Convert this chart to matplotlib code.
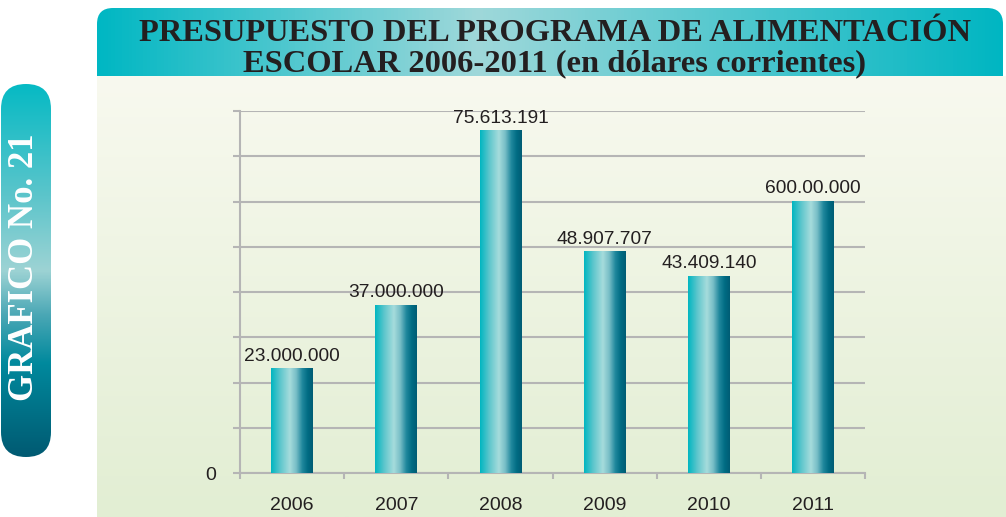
import numpy as np
import matplotlib.pyplot as plt
from matplotlib.colors import LinearSegmentedColormap
from matplotlib.patches import FancyBboxPatch

# data
years = ['2006', '2007', '2008', '2009', '2010', '2011']
budget = [23000000, 37000000, 75613191, 48907707, 43409140, 60000000]
value_labels = ['23.000.000', '37.000.000', '75.613.191', '48.907.707', '43.409.140', '600.00.000']
title_1 = 'PRESUPUESTO DEL PROGRAMA DE ALIMENTACIÓN'
title_2 = 'ESCOLAR 2006-2011 (en dólares corrientes)'
tab_text = 'GRAFICO No. 21'
y_ticks = np.arange(0, 80e6 + 1, 10e6)

W, H = 1006, 517
fig = plt.figure(figsize=(W / 100, H / 100), dpi=100)

# background layer in pixel coords (y down)
bg = fig.add_axes([0, 0, 1, 1], zorder=0)
bg.set_xlim(0, W)
bg.set_ylim(H, 0)
bg.axis('off')

grad = np.linspace(0, 1, 256)

def cmap(stops):
    return LinearSegmentedColormap.from_list('g', stops)

# title banner (rounded top, bottom hidden by panel)
banner = FancyBboxPatch((97, 8), 906, 90, boxstyle='round,pad=0,rounding_size=16',
                        fc='none', ec='none')
bg.add_patch(banner)
im = bg.imshow(grad[None, :], cmap=cmap([(0, '#00b7c3'), (0.42, '#9fd8da'), (1, '#00b6c2')]),
               extent=(97, 1003, 98, 8), aspect='auto')
im.set_clip_path(banner)

# light green panel
bg.imshow(grad[:, None], cmap=cmap([(0, '#f8f9ef'), (1, '#e2eed3')]),
          extent=(97, 1006, 517, 76), aspect='auto')

# left tab
tab = FancyBboxPatch((1, 84), 50, 373, boxstyle='round,pad=0,rounding_size=25',
                     fc='none', ec='none')
bg.add_patch(tab)
im = bg.imshow(grad[:, None],
               cmap=cmap([(0, '#06bac4'), (0.3, '#5cc5cb'), (0.5, '#9dd3d4'),
                          (0.62, '#4aa7b5'), (0.75, '#00899d'), (1, '#005a72')]),
               extent=(1, 51, 457, 84), aspect='auto')
im.set_clip_path(tab)

bg.set_xlim(0, W)
bg.set_ylim(H, 0)

bg.text(555, 41, title_1, ha='center', va='baseline', fontsize=23.4, fontweight='bold',
        family='Liberation Serif', color='#231f20')
bg.text(555, 71, title_2, ha='center', va='baseline', fontsize=23.4, fontweight='bold',
        family='Liberation Serif', color='#231f20')
bg.text(25, 267, tab_text, ha='center', va='center', rotation=90, fontsize=25,
        fontweight='bold', family='Liberation Serif', color='white')

# main chart
ax = fig.add_axes([240 / W, 44 / H, 625 / W, 362 / H], zorder=1)
ax.set_facecolor('none')

x = np.arange(len(years))
bars = ax.bar(x, budget, width=0.4, color='none', zorder=3)
bar_cmap = cmap([(0, '#00b6c1'), (0.22, '#5dc6cc'), (0.45, '#a6dcdc'), (0.6, '#78bec7'),
                 (0.75, '#1f879c'), (0.88, '#006b83'), (1, '#005c74')])
for b in bars:
    ax.imshow(grad[None, :], cmap=bar_cmap, aspect='auto', zorder=3,
              extent=(b.get_x(), b.get_x() + b.get_width(), 0, b.get_height()))

for xi, v, lbl in zip(x, budget, value_labels):
    ax.annotate(lbl, (xi, v), xytext=(0, 3), textcoords='offset points', ha='center',
                va='bottom', fontsize=13.8, family='Liberation Sans', color='#231f20')

ax.set_xlim(-0.5, len(years) - 0.5)
ax.set_ylim(0, 80e6)

grey = '#b5b5b5'
ax.set_yticks(y_ticks)
ax.set_yticklabels(['0'] + [''] * (len(y_ticks) - 1))
ax.yaxis.grid(True, color=grey, lw=1.5)
ax.set_axisbelow(True)
ax.set_xticks(x)
ax.set_xticklabels(years)
ax.set_xticks(np.arange(-0.5, len(years), 1), minor=True)

ax.tick_params(axis='x', which='major', length=0, pad=17, labelsize=14, labelcolor='#231f20')
ax.tick_params(axis='x', which='minor', length=4, width=1.5, color=grey)
ax.tick_params(axis='y', length=5, width=1.5, color=grey, pad=12, labelsize=14,
               labelcolor='#231f20')
for lab in ax.get_xticklabels() + ax.get_yticklabels():
    lab.set_family('Liberation Sans')

for s in ['top', 'right']:
    ax.spines[s].set_visible(False)
for s in ['left', 'bottom']:
    ax.spines[s].set_color(grey)
    ax.spines[s].set_linewidth(1.5)

fig.savefig('out.png', dpi=100)
